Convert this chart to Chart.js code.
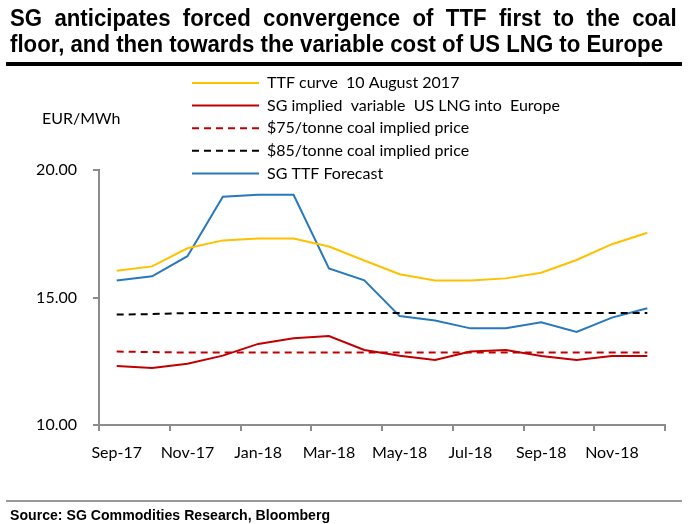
<!DOCTYPE html>
<html>
<head>
<meta charset="utf-8">
<script src="https://cdn.jsdelivr.net/npm/chart.js@4.4.1/dist/chart.umd.min.js"></script>
<style>
  html, body { margin: 0; padding: 0; background: #fff; width: 688px; height: 524px; overflow: hidden; }
  #wrap { position: absolute; left: 0; top: 0; width: 688px; height: 524px; }
  .title { position: absolute; left: 10px; font: bold 23px "Liberation Sans", Arial, sans-serif; line-height: 26px;
           white-space: nowrap; transform-origin: 0 0; color: #000; }
  #t1 { top: 5px; }
  #t2 { top: 31px; }
  #rule { position: absolute; left: 6px; top: 62px; width: 676px; height: 4px; background: #000; }
  #srule { position: absolute; left: 6px; top: 500px; width: 676px; height: 2px; background: #999; }
  #src { position: absolute; left: 10px; top: 506px; font: bold 15px "Liberation Sans", Arial, sans-serif;
         white-space: nowrap; transform-origin: 0 0; color: #000; }
</style>
</head>
<body>
<div id="wrap"><canvas id="chart" width="688" height="524"></canvas></div>
<div class="title" id="t1">SG anticipates forced convergence of TTF first to the coal</div>
<div class="title" id="t2">floor, and then towards the variable cost of US LNG to Europe</div>
<div id="rule"></div>
<div id="srule"></div>
<div id="src">Source: SG Commodities Research, Bloomberg</div>
<script>
const months = ["Sep-17", "Oct-17", "Nov-17", "Dec-17", "Jan-18", "Feb-18", "Mar-18", "Apr-18",
                "May-18", "Jun-18", "Jul-18", "Aug-18", "Sep-18", "Oct-18", "Nov-18", "Dec-18"];
const ttfCurve = [16.05, 16.22, 16.93, 17.24, 17.31, 17.31, 17.0, 16.45,
                  15.91, 15.67, 15.67, 15.75, 15.97, 16.47, 17.09, 17.54];
const lngVariable = [12.31, 12.24, 12.40, 12.72, 13.18, 13.40, 13.49, 12.94,
                     12.72, 12.55, 12.88, 12.94, 12.71, 12.55, 12.71, 12.71];
const coal75 = [12.88, 12.86, 12.84, 12.84, 12.84, 12.84, 12.84, 12.84,
                12.84, 12.84, 12.84, 12.84, 12.84, 12.84, 12.84, 12.84];
const coal85 = [14.33, 14.35, 14.39, 14.39, 14.39, 14.39, 14.39, 14.39,
                14.39, 14.39, 14.39, 14.39, 14.39, 14.39, 14.39, 14.39];
const sgForecast = [15.67, 15.83, 16.62, 18.95, 19.03, 19.03, 16.14, 15.67,
                    14.27, 14.10, 13.79, 13.79, 14.03, 13.65, 14.21, 14.58];
const yTicks = [10, 15, 20];

// fit the title / source text to the widths of the original
function fitText() {
  const t1 = document.getElementById("t1");
  const t2 = document.getElementById("t2");
  const s = 653 / t2.scrollWidth;
  t2.style.transform = "scaleX(" + s + ")";
  const spaces = t1.textContent.split(" ").length - 1;
  const extra = (667 / s - t1.scrollWidth) / spaces;
  t1.style.wordSpacing = extra + "px";
  t1.style.transform = "scaleX(" + s + ")";
  const src = document.getElementById("src");
  src.style.transform = "scaleX(" + (320 / src.scrollWidth) + ")";
}
fitText();

const FONT = "Lato, 'Open Sans', sans-serif";
const axisGray = "#8c8c8c";

const legendPlugin = {
  id: "sideLegend",
  afterDraw(chart) {
    const c = chart.ctx;
    c.save();
    c.font = "16px " + FONT;
    c.textBaseline = "middle";
    c.fillStyle = "#000";
    c.fillText("EUR/MWh", 42, 119);
    chart.data.datasets.forEach((ds, i) => {
      const y = 83 + i * 22.6;
      c.beginPath();
      c.strokeStyle = ds.borderColor;
      c.lineWidth = 2;
      c.setLineDash(ds.borderDash || []);
      c.moveTo(192, y);
      c.lineTo(259, y);
      c.stroke();
      c.setLineDash([]);
      c.fillStyle = "#000";
      c.fillText(ds.label, 267, y);
    });
    c.restore();
  }
};

new Chart(document.getElementById("chart").getContext("2d"), {
  type: "line",
  data: {
    labels: months,
    datasets: [
      { label: "TTF curve  10 August 2017", data: ttfCurve, borderColor: "#ffc000" },
      { label: "SG implied  variable  US LNG into  Europe", data: lngVariable, borderColor: "#c00000" },
      { label: "$75/tonne coal implied price", data: coal75, borderColor: "#c00000", borderDash: [7, 5] },
      { label: "$85/tonne coal implied price", data: coal85, borderColor: "#000000", borderDash: [7, 5] },
      { label: "SG TTF Forecast", data: sgForecast, borderColor: "#2878bd" }
    ]
  },
  options: {
    responsive: false,
    animation: false,
    layout: { padding: { left: 0, top: 170, right: 23, bottom: 59 } },
    elements: {
      line: { borderWidth: 2, tension: 0, fill: false },
      point: { radius: 0, hoverRadius: 0 }
    },
    plugins: { legend: { display: false }, tooltip: { enabled: false } },
    scales: {
      x: {
        type: "category",
        offset: true,
        afterFit: (scale) => { scale.height = 40; },
        grid: {
          offset: true,
          drawOnChartArea: false,
          tickLength: 6,
          lineWidth: 2,
          color: (ctx) => (ctx.index === undefined || ctx.index % 2 === 0) ? axisGray : "rgba(0,0,0,0)"
        },
        border: { color: axisGray, width: 2 },
        ticks: {
          autoSkip: false,
          maxRotation: 0,
          padding: 12,
          color: "#000",
          font: { family: FONT, size: 16 },
          callback: (v, i) => (i % 2 === 0 ? months[i] : "")
        }
      },
      y: {
        min: 10,
        max: 20,
        afterFit: (scale) => { scale.width = 99; },
        afterBuildTicks: (scale) => { scale.ticks = yTicks.map((v) => ({ value: v })); },
        grid: { drawOnChartArea: false, tickLength: 6, lineWidth: 2, color: axisGray },
        border: { color: axisGray, width: 2 },
        ticks: {
          padding: 16,
          color: "#000",
          font: { family: FONT, size: 16 },
          callback: (v) => Number(v).toFixed(2)
        }
      }
    }
  },
  plugins: [legendPlugin]
});
</script>
</body>
</html>
